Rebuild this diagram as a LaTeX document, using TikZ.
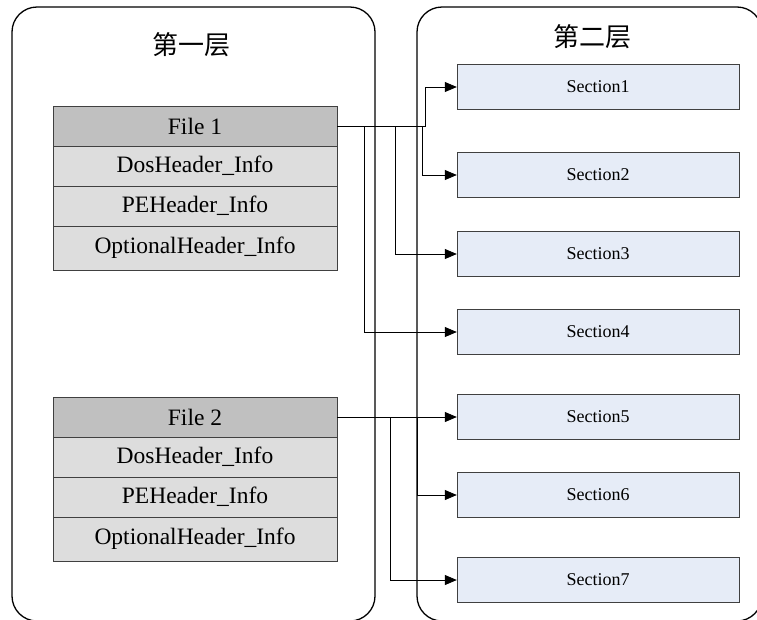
\documentclass[tikz,border=0pt]{standalone}
\usepackage{fontspec}
\setmainfont{Liberation Serif}
\newfontfamily\cjk{Noto Sans CJK SC}
\usetikzlibrary{positioning,arrows.meta}

\definecolor{headgray}{RGB}{192,192,192}
\definecolor{rowgray}{RGB}{221,221,221}
\definecolor{secblue}{RGB}{230,236,247}

\newcommand{\boxwidth}{284pt}
\newcommand{\secwidth}{282pt}
\newcommand{\secx}{598}

\begin{document}
\begin{tikzpicture}[
    x=1pt, y=-1pt,
    panel/.style={draw, line width=1.3pt, rounded corners=25pt},
    layer font/.style={font=\cjk\fontsize{26}{30}\selectfont},
    file head/.style={draw=black!75, fill=headgray, minimum width=\boxwidth, minimum height=40pt, inner sep=0pt, outer sep=0pt, font=\fontsize{23.5}{27}\selectfont},
    file row/.style={file head, fill=rowgray},
    section box/.style={draw=black!75, fill=secblue, minimum width=\secwidth, minimum height=45pt, inner sep=0pt, font=\fontsize{18}{22}\selectfont},
    link/.style={draw, line width=0.8pt, -{Triangle[length=12pt,width=10pt]}}
]

\useasboundingbox (0,0) rectangle (757,619);
\clip (0,0) rectangle (757,619);

% LAYERS
\draw[panel] (12,7) rectangle (375,621);
\draw[panel] (417,7) rectangle (762,621);
\node[layer font] (layer1) at (191,45) {第一层};
\node[layer font] (layer2) at (592,37) {第二层};

% FILE 1
\node[file head] (file1) at (195,126) {File 1};
\node[file row, below=0pt of file1] (dos1) {DosHeader\_Info};
\node[file row, below=0pt of dos1] (pe1) {PEHeader\_Info};
\node[file row, below=0pt of pe1, minimum height=44pt] (opt1) {OptionalHeader\_Info};

% FILE 2
\node[file head] (file2) at (195,417) {File 2};
\node[file row, below=0pt of file2] (dos2) {DosHeader\_Info};
\node[file row, below=0pt of dos2] (pe2) {PEHeader\_Info};
\node[file row, below=0pt of pe2, minimum height=44pt] (opt2) {OptionalHeader\_Info};

% SECTIONS
\node[section box] (sec1) at (\secx,87) {Section1};
\node[section box] (sec2) at (\secx,175) {Section2};
\node[section box] (sec3) at (\secx,254) {Section3};
\node[section box] (sec4) at (\secx,332) {Section4};
\node[section box] (sec5) at (\secx,417) {Section5};
\node[section box] (sec6) at (\secx,495) {Section6};
\node[section box] (sec7) at (\secx,580) {Section7};

% Branch points
\coordinate (b1) at (425,0);
\coordinate (b2) at (422,0);
\coordinate (b3) at (395,0);
\coordinate (b4) at (364,0);
\coordinate (b6) at (417,0);
\coordinate (b7) at (390,0);

% LINKS
\draw[link] (file1.east) -- (file1.east -| b1) |- (sec1.west);
\draw[link] (file1.east) -- (file1.east -| b2) |- (sec2.west);
\draw[link] (file1.east) -- (file1.east -| b3) |- (sec3.west);
\draw[link] (file1.east) -- (file1.east -| b4) |- (sec4.west);

\draw[link] (file2.east) -- (sec5.west);
\draw[link] (file2.east) -- (file2.east -| b6) |- (sec6.west);
\draw[link] (file2.east) -- (file2.east -| b7) |- (sec7.west);

\end{tikzpicture}
\end{document}
